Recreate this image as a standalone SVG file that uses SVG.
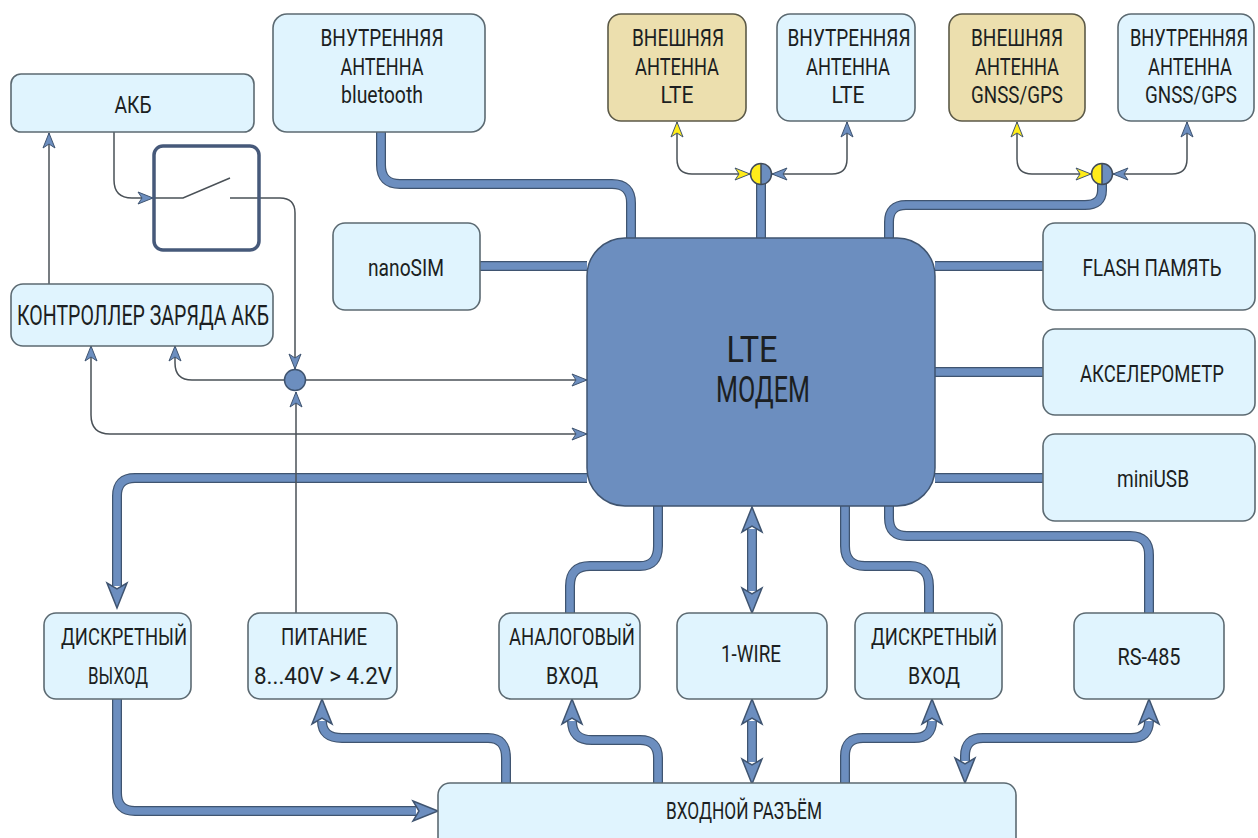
<svg xmlns="http://www.w3.org/2000/svg" width="1258" height="838" viewBox="0 0 1258 838">
<style>
.n{fill:#e0f4fe;stroke:#5c6a72;stroke-width:1.6}
.y{fill:#ecdfae;stroke:#5c5a48;stroke-width:1.6}
text{font-family:"Roboto","Liberation Sans",sans-serif;font-size:24px;font-weight:400;fill:#1c1f22;text-anchor:middle}
.o{fill:none;stroke:#3f5470;stroke-width:10}
.i{fill:none;stroke:#6c8ebf;stroke-width:7.500}
.t{fill:none;stroke:#4a5157;stroke-width:1.5}
.tb{fill:none;stroke:#4a5157;stroke-width:1.5;marker-end:url(#ta)}
.ty{fill:none;stroke:#4a5157;stroke-width:1.5;marker-end:url(#tay)}
</style>
<defs>
<marker id="ha" markerUnits="userSpaceOnUse" viewBox="-4 -14 36 28" markerWidth="36" markerHeight="28" refX="0" refY="0" orient="auto-start-reverse" overflow="visible">
<path d="M-3 -10 L22 0 L-3 10 L3 0 Z" fill="#6c8ebf" stroke="#3f5470" stroke-width="1.5" stroke-linejoin="miter"/>
</marker>
<marker id="ta" markerUnits="userSpaceOnUse" viewBox="-16 -7 18 14" markerWidth="18" markerHeight="14" refX="0" refY="0" orient="auto-start-reverse" overflow="visible">
<path d="M-15 -6 L0 0 L-15 6 L-11 0 Z" fill="#6c8ebf" stroke="#3f5470" stroke-width="1"/>
</marker>
<marker id="tay" markerUnits="userSpaceOnUse" viewBox="-16 -7 18 14" markerWidth="18" markerHeight="14" refX="0" refY="0" orient="auto-start-reverse" overflow="visible">
<path d="M-15 -6 L0 0 L-15 6 L-11 0 Z" fill="#ffec1a" stroke="#3f5470" stroke-width="1"/>
</marker>
<path id="c1" d="M381 132V165Q381 184 400 184H612Q631 184 631 203V238"/>
<path id="c2" d="M480 266H587"/>
<path id="c3" d="M761 184V238"/>
<path id="c4" d="M889 238V222Q889 205 906 205H1085Q1102 205 1102 190V184"/>
<path id="c5" d="M935 266H1043"/>
<path id="c6" d="M935 372H1043"/>
<path id="c7" d="M935 478H1043"/>
<path id="c8" d="M587 478H135Q117 478 117 496V586"/>
<path id="c9" d="M658 506V546Q658 566 640 566H590Q570 566 570 586V613"/>
<path id="c10" d="M752 529V591"/>
<path id="c11" d="M845 506V546Q845 566 865 566H910Q929 566 929 586V613"/>
<path id="c12" d="M889 506V518Q889 536 907 536H1130Q1149 536 1149 555V613"/>
<path id="c13" d="M752 721V762"/>
<path id="c14" d="M117 699V793Q117 811 135 811H416"/>
<path id="c15" d="M506 783V758Q506 738 488 738H342Q322 738 322 721"/>
<path id="c16" d="M658 783V758Q658 740 640 740H592Q572 740 572 721"/>
<path id="c17" d="M845 783V756Q845 738 863 738H914Q932 738 932 721"/>
<path id="c18" d="M1149 721Q1149 738 1131 738H983Q965 738 965 756V761"/>
</defs>

<g id="connectors">
<use href="#c1" class="o"/><use href="#c2" class="o"/><use href="#c3" class="o"/><use href="#c4" class="o"/><use href="#c5" class="o"/><use href="#c6" class="o"/><use href="#c7" class="o"/><use href="#c8" class="o"/><use href="#c9" class="o"/><use href="#c10" class="o"/><use href="#c11" class="o"/><use href="#c12" class="o"/><use href="#c13" class="o"/><use href="#c14" class="o"/><use href="#c15" class="o"/><use href="#c16" class="o"/><use href="#c17" class="o"/><use href="#c18" class="o"/>
<path class="i" d="M381 132V165Q381 184 400 184H612Q631 184 631 203V238"/>
<path class="i" d="M480 266H587"/>
<path class="i" d="M761 184V238"/>
<path class="i" d="M889 238V222Q889 205 906 205H1085Q1102 205 1102 190V184"/>
<path class="i" d="M935 266H1043"/>
<path class="i" d="M935 372H1043"/>
<path class="i" d="M935 478H1043"/>
<path class="i" d="M587 478H135Q117 478 117 496V586" marker-end="url(#ha)"/>
<path class="i" d="M658 506V546Q658 566 640 566H590Q570 566 570 586V613"/>
<path class="i" d="M752 529V591" marker-start="url(#ha)" marker-end="url(#ha)"/>
<path class="i" d="M845 506V546Q845 566 865 566H910Q929 566 929 586V613"/>
<path class="i" d="M889 506V518Q889 536 907 536H1130Q1149 536 1149 555V613"/>
<path class="i" d="M752 721V762" marker-start="url(#ha)" marker-end="url(#ha)"/>
<path class="i" d="M117 699V793Q117 811 135 811H416" marker-end="url(#ha)"/>
<path class="i" d="M506 783V758Q506 738 488 738H342Q322 738 322 721" marker-end="url(#ha)"/>
<path class="i" d="M658 783V758Q658 740 640 740H592Q572 740 572 721" marker-end="url(#ha)"/>
<path class="i" d="M845 783V756Q845 738 863 738H914Q932 738 932 721" marker-end="url(#ha)"/>
<path class="i" d="M1149 721Q1149 738 1131 738H983Q965 738 965 756V761" marker-start="url(#ha)" marker-end="url(#ha)"/>

<path class="tb" d="M49 284V133"/>
<path class="tb" d="M114 132V180Q114 198 132 198H153"/>
<path class="t" d="M153 198H183L230 178"/>
<path class="tb" d="M230 198H280Q295 198 295 213V369"/>
<path class="tb" d="M296 613V392"/>
<path class="tb" d="M306 380H587"/>
<path class="tb" d="M284 380H192Q175 380 175 363V346"/>
<path class="tb" d="M110 434H587"/>
<path class="tb" d="M110 434Q91 434 91 415V346"/>
<path class="ty" d="M692 174Q677 174 677 159V122"/>
<path class="ty" d="M692 174H750"/>
<path class="tb" d="M832 174Q847 174 847 159V122"/>
<path class="tb" d="M832 174H772"/>
<path class="ty" d="M1032 174Q1017 174 1017 159V122"/>
<path class="ty" d="M1032 174H1091"/>
<path class="tb" d="M1172 174Q1187 174 1187 159V122"/>
<path class="tb" d="M1172 174H1113"/>
</g>

<g id="akb"><rect class="n" x="11" y="74" width="243" height="58" rx="10"/><text x="133" y="113" textLength="37" lengthAdjust="spacingAndGlyphs">АКБ</text></g>
<g id="switch"><rect x="154" y="146" width="105" height="104" rx="9" fill="none" stroke="#46597a" stroke-width="3.500"/></g>
<g id="charger"><rect class="n" x="11" y="284" width="262" height="62" rx="12"/><text x="143" y="325" style="font-size:27px" textLength="252" lengthAdjust="spacingAndGlyphs">КОНТРОЛЛЕР ЗАРЯДА АКБ</text></g>
<g id="bt"><rect class="n" x="273" y="14" width="212" height="118" rx="14"/><text x="382" y="46" textLength="123" lengthAdjust="spacingAndGlyphs">ВНУТРЕННЯЯ</text><text x="382" y="75" textLength="83" lengthAdjust="spacingAndGlyphs">АНТЕННА</text><text x="382" y="103" textLength="82" lengthAdjust="spacingAndGlyphs">bluetooth</text></g>
<g id="nanosim"><rect class="n" x="333" y="223" width="147" height="87" rx="12"/><text x="406" y="276" textLength="76" lengthAdjust="spacingAndGlyphs">nanoSIM</text></g>
<g id="ext-lte"><rect class="y" x="608" y="14" width="138" height="107" rx="13"/><text x="678" y="46" textLength="92" lengthAdjust="spacingAndGlyphs">ВНЕШНЯЯ</text><text x="677" y="75" textLength="84" lengthAdjust="spacingAndGlyphs">АНТЕННА</text><text x="677" y="103" textLength="33" lengthAdjust="spacingAndGlyphs">LTE</text></g>
<g id="int-lte"><rect class="n" x="777" y="14" width="138" height="107" rx="13"/><text x="849" y="46" textLength="123" lengthAdjust="spacingAndGlyphs">ВНУТРЕННЯЯ</text><text x="848" y="75" textLength="84" lengthAdjust="spacingAndGlyphs">АНТЕННА</text><text x="848" y="103" textLength="33" lengthAdjust="spacingAndGlyphs">LTE</text></g>
<g id="ext-gnss"><rect class="y" x="949" y="14" width="136" height="107" rx="13"/><text x="1017" y="46" textLength="92" lengthAdjust="spacingAndGlyphs">ВНЕШНЯЯ</text><text x="1017" y="75" textLength="84" lengthAdjust="spacingAndGlyphs">АНТЕННА</text><text x="1017" y="103" textLength="92" lengthAdjust="spacingAndGlyphs">GNSS/GPS</text></g>
<g id="int-gnss"><rect class="n" x="1118" y="14" width="136" height="107" rx="13"/><text x="1189" y="46" textLength="118" lengthAdjust="spacingAndGlyphs">ВНУТРЕННЯЯ</text><text x="1190" y="75" textLength="84" lengthAdjust="spacingAndGlyphs">АНТЕННА</text><text x="1191" y="103" textLength="92" lengthAdjust="spacingAndGlyphs">GNSS/GPS</text></g>
<g id="flash"><rect class="n" x="1043" y="223" width="212" height="87" rx="12"/><text x="1152" y="276" textLength="139" lengthAdjust="spacingAndGlyphs">FLASH ПАМЯТЬ</text></g>
<g id="accel"><rect class="n" x="1043" y="329" width="212" height="86" rx="12"/><text x="1152" y="382" textLength="144" lengthAdjust="spacingAndGlyphs">АКСЕЛЕРОМЕТР</text></g>
<g id="miniusb"><rect class="n" x="1043" y="434" width="212" height="87" rx="12"/><text x="1153" y="487" textLength="72" lengthAdjust="spacingAndGlyphs">miniUSB</text></g>
<g id="modem"><rect x="587" y="238" width="348" height="268" rx="38" fill="#6c8ebf" stroke="#3f5470" stroke-width="1.5"/><text x="752" y="362" style="font-size:36px" textLength="51" lengthAdjust="spacingAndGlyphs">LTE</text><text x="763" y="402" style="font-size:36px" textLength="94" lengthAdjust="spacingAndGlyphs">МОДЕМ</text></g>
<g id="do"><rect class="n" x="44" y="613" width="147" height="86" rx="12"/><text x="124" y="645" textLength="126" lengthAdjust="spacingAndGlyphs">ДИСКРЕТНЫЙ</text><text x="118" y="684" textLength="60" lengthAdjust="spacingAndGlyphs">ВЫХОД</text></g>
<g id="pwr"><rect class="n" x="248" y="613" width="149" height="86" rx="12"/><text x="324" y="645" textLength="86" lengthAdjust="spacingAndGlyphs">ПИТАНИЕ</text><text x="323" y="684" textLength="138" lengthAdjust="spacingAndGlyphs">8...40V &gt; 4.2V</text></g>
<g id="ai"><rect class="n" x="499" y="613" width="141" height="86" rx="12"/><text x="572" y="645" textLength="126" lengthAdjust="spacingAndGlyphs">АНАЛОГОВЫЙ</text><text x="572" y="684" textLength="52" lengthAdjust="spacingAndGlyphs">ВХОД</text></g>
<g id="wire"><rect class="n" x="677" y="613" width="150" height="86" rx="12"/><text x="751" y="662" textLength="60" lengthAdjust="spacingAndGlyphs">1-WIRE</text></g>
<g id="di"><rect class="n" x="855" y="613" width="147" height="86" rx="12"/><text x="934" y="645" textLength="126" lengthAdjust="spacingAndGlyphs">ДИСКРЕТНЫЙ</text><text x="934" y="684" textLength="52" lengthAdjust="spacingAndGlyphs">ВХОД</text></g>
<g id="rs"><rect class="n" x="1074" y="613" width="150" height="86" rx="12"/><text x="1149" y="665" textLength="63" lengthAdjust="spacingAndGlyphs">RS-485</text></g>
<g id="conn"><rect class="n" x="438" y="783" width="578" height="70" rx="12"/><text x="744" y="819" textLength="156" lengthAdjust="spacingAndGlyphs">ВХОДНОЙ РАЗЪЁМ</text></g>

<g id="junction"><circle cx="295" cy="380" r="10.5" fill="#6c8ebf" stroke="#3f5470" stroke-width="1.5"/></g>
<g id="split-lte"><circle cx="761" cy="174" r="10.5" fill="#6c8ebf"/><path d="M761 163.500A10.500 10.500 0 0 0 761 184.500Z" fill="#ffec1a"/><circle cx="761" cy="174" r="10.500" fill="none" stroke="#3f4a58" stroke-width="1.500"/><path d="M761 163.500V184.500" stroke="#3f4a58" stroke-width="1.500"/></g>
<g id="split-gnss"><circle cx="1102" cy="174" r="10.5" fill="#6c8ebf"/><path d="M1102 163.500A10.500 10.500 0 0 0 1102 184.500Z" fill="#ffec1a"/><circle cx="1102" cy="174" r="10.500" fill="none" stroke="#3f4a58" stroke-width="1.500"/><path d="M1102 163.500V184.500" stroke="#3f4a58" stroke-width="1.500"/></g>
</svg>
